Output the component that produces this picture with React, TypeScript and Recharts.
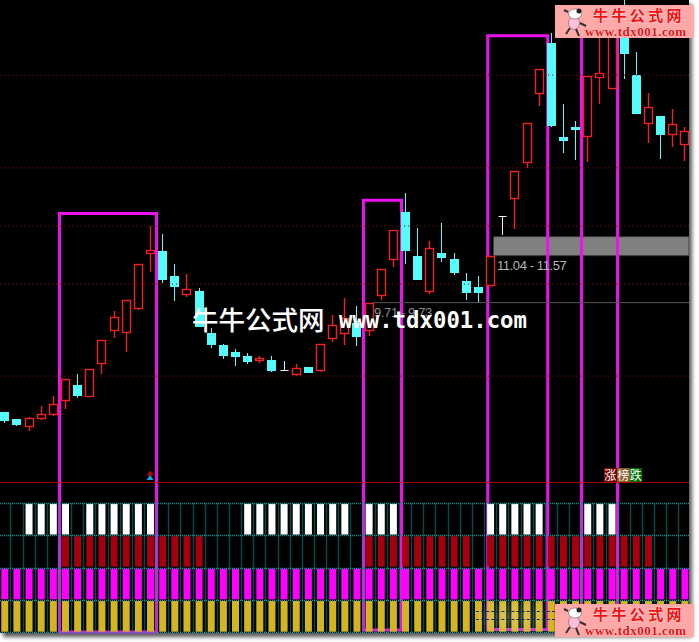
import { Bar, ComposedChart, ReferenceArea, ReferenceDot, ReferenceLine, XAxis, YAxis } from "recharts";

// candles, one entry per trading day
const opens = [6.68,6.48,6.28,6.51,6.61,7.01,7.42,7.12,8.04,8.96,8.90,9.57,11.10,11.17,10.47,9.95,10.05,8.87,8.54,8.35,8.24,8.13,8.12,7.86,7.76,7.93,7.84,8.77,8.88,9.16,8.95,9.95,10.94,12.27,11.04,10.07,11.11,10.96,10.34,10.18,10.22,12.16,12.64,13.65,15.57,16.97,14.36,14.64,14.37,16.01,15.71,17.76,16.08,14.73,14.95,14.43,14.15];
const highs = [6.68,6.48,6.54,6.85,7.13,7.59,7.74,7.87,8.68,9.49,9.80,10.80,11.87,11.65,10.82,10.52,10.14,9.02,8.57,8.44,8.33,8.24,8.23,8.09,8.02,7.93,8.57,9.39,9.85,9.63,9.71,10.68,11.76,12.80,11.80,11.44,11.94,11.12,10.55,10.47,11.04,12.16,13.40,14.73,16.24,17.25,15.27,14.80,16.05,17.20,17.62,18.17,16.72,15.58,14.95,15.13,14.63];
const lows = [6.38,6.28,6.14,6.45,6.56,6.75,7.06,7.12,7.73,8.74,8.36,9.53,10.59,10.29,9.78,9.90,9.06,8.47,8.17,7.95,8.03,8.05,7.80,7.81,7.68,7.76,7.79,8.64,8.54,8.53,8.81,9.80,10.73,10.82,10.41,9.96,10.87,10.51,9.80,9.73,10.22,11.61,11.79,13.48,15.22,14.62,13.91,13.72,13.66,15.28,15.71,15.98,15.03,14.19,13.75,14.08,13.69];
const closes = [6.46,6.34,6.50,6.61,6.89,7.59,7.14,7.87,8.68,9.32,9.80,10.80,11.19,10.40,10.20,10.10,9.06,8.56,8.25,8.25,8.11,8.19,7.84,7.86,7.92,7.79,8.57,9.12,9.30,8.81,9.71,10.68,11.76,11.22,10.41,11.26,11.01,10.59,10.02,10.04,11.04,12.16,13.40,14.73,16.24,14.69,14.28,14.58,16.05,16.13,17.62,16.70,15.03,15.18,14.44,14.71,14.51];

// signal rows under the candles: day numbers where the row is lit
const whiteDays = [2,3,4,5,7,8,9,10,11,12,20,21,22,23,24,25,26,27,28,30,31,32,40,41,42,43,44,48,49,50];
const redDays = [5,6,7,8,9,10,11,12,13,14,15,16,30,31,32,33,34,35,36,37,38,40,41,42,43,44,45,46,47,48,49,50,51,52,53];

const priceGrid = [16.08, 13.49, 11.87, 10.25, 7.68];
const priceLabels = [
  { text: "11.04 - 11.57", day: 40.56, price: 10.64, color: "#b4b4b4" },
  { text: "9.71 - 9.73", day: 30.44, price: 9.33, color: "#8c8c8c" },
];
const boxes = [
  { x1: 4.54, x2: 12.53, top: 12.22, bottom: 0.54 },
  { x1: 29.57, x2: 32.7, top: 12.59, bottom: 0.6 },
  { x1: 39.8, x2: 44.74, top: 17.18, bottom: 0.61 },
  { x1: 47.52, x2: 50.49, top: 17.9, bottom: 0.88 },
];
const tags = [
  { text: "涨", bg: "#7a0000", left: 604 },
  { text: "榜", bg: "#8a5a28", left: 617 },
  { text: "跌", bg: "#006e00", left: 629.5 },
];

const days = opens.map((_, i) => i);
const table = days.map((i) => ({
  i,
  open: opens[i],
  close: closes[i],
  range: [lows[i], highs[i]],
  yellow: [0.02, 0.97],
  magenta: [1.02, 1.97],
  red: redDays.includes(i) ? [2.03, 2.97] : [2, 2],
  white: whiteDays.includes(i) ? [3.02, 3.97] : [3, 3],
}));

const rows = [
  { key: "yellow", fill: "#d4b422" },
  { key: "magenta", fill: "#ff00ff" },
  { key: "red", fill: "#a6000f" },
  { key: "white", fill: "#ffffff" },
];
const xDomain = [-0.358, 56.374];

const crisp = (v: number) => Math.round(v) + 0.5;

function Candle(props: any) {
  const { x, y, width, height, payload } = props;
  const [low, high] = payload.range;
  const perUnit = height / (high - low);
  const cx = crisp(x + width / 2 - 0.5);
  const yOpen = y + (high - payload.open) * perUnit;
  const yClose = y + (high - payload.close) * perUnit;
  const top = crisp(Math.min(yOpen, yClose));
  const h = Math.max(1, Math.round(Math.abs(yOpen - yClose)));
  const wick = { x1: cx, x2: cx, y1: Math.round(y), y2: Math.round(y + height) };
  if (payload.open === payload.close) {
    return (
      <g stroke="#f0f0f0" strokeWidth={1}>
        <line {...wick} />
        <line x1={cx - 4} x2={cx + 4} y1={top} y2={top} />
      </g>
    );
  }
  if (payload.close > payload.open) {
    return (
      <g stroke="#f02020" strokeWidth={1.4}>
        <line {...wick} />
        <rect x={cx - 4} y={top} width={8} height={h} fill="#000" />
      </g>
    );
  }
  return (
    <g>
      <line {...wick} stroke="#54fcfc" strokeWidth={1} />
      <rect x={cx - 4.5} y={top - 0.5} width={9} height={h + 1} fill="#54fcfc" />
    </g>
  );
}

function DottedLine(props: any) {
  const { x1, x2, y1, y2 } = props;
  const vertical = x1 === x2;
  return (
    <line
      x1={vertical ? crisp(x1) : x1}
      x2={vertical ? crisp(x2) : x2}
      y1={vertical ? y1 : crisp(y1)}
      y2={vertical ? y2 : crisp(y2)}
      stroke="#009898"
      strokeWidth={1.4}
      strokeDasharray="1 1"
    />
  );
}

function Triangle(props: any) {
  const { cx, cy, fill } = props;
  return <path d={`M${cx - 3.5} ${cy + 2.5} L${cx} ${cy - 2.5} L${cx + 3.5} ${cy + 2.5} Z`} fill={fill} />;
}

function Logo({ left, top }: { left: number; top: number }) {
  return (
    <div style={{ position: "absolute", left, top, width: 139, height: 33, background: "#ffa8a8", overflow: "hidden" }}>
      <svg width={30} height={33} style={{ position: "absolute", left: 6, top: 0 }}>
        <ellipse cx={13} cy={18} rx={5.5} ry={6.5} fill="#ffc0dc" stroke="#555" strokeWidth={0.5} />
        <ellipse cx={14} cy={9} rx={6.5} ry={5} fill="#fff" stroke="#444" strokeWidth={0.5} />
        <circle cx={18} cy={6} r={2.5} fill="#222" />
        <path d="M7 7 L3 5 M19 18 L25 21 M9 23 L5 29 M15 24 L18 31" stroke="#333" strokeWidth={2} />
      </svg>
      <div
        style={{
          position: "absolute",
          left: 38,
          top: 2,
          color: "#f01010",
          fontFamily: "'Noto Sans CJK SC'",
          fontWeight: 700,
          fontSize: 15,
          lineHeight: "16px",
          letterSpacing: 3.4,
          whiteSpace: "nowrap",
          textShadow: "0 0 2px #fff",
        }}
      >
        牛牛公式网
      </div>
      <div
        style={{
          position: "absolute",
          left: 30,
          top: 20,
          color: "#e01010",
          fontFamily: "'Liberation Serif'",
          fontWeight: 700,
          fontSize: 13,
          lineHeight: "13px",
          letterSpacing: 0.5,
          whiteSpace: "nowrap",
          textShadow: "0 0 1px #fff",
        }}
      >
        www.tdx001.com
      </div>
    </div>
  );
}

export default function App() {
  return (
    <div style={{ position: "absolute", left: 0, top: 0, width: 699, height: 642, background: "#fff", overflow: "hidden" }}>
      <div style={{ position: "absolute", left: 0, top: 0, width: 689, height: 633, background: "#000", boxShadow: "3px 4px 4px rgba(0,0,0,0.65)" }} />
      <div style={{ position: "absolute", left: 0, top: 0 }}>
        <ComposedChart width={689} height={634} data={table} margin={{ top: 0, right: 0, bottom: 0, left: 0 }}>
          <XAxis dataKey="i" type="number" domain={xDomain} allowDataOverflow hide />
          {rows.map((r) => (
            <XAxis key={r.key} xAxisId={r.key} dataKey="i" type="number" domain={xDomain} allowDataOverflow hide />
          ))}
          <YAxis yAxisId="price" domain={[0.485, 18.174]} allowDataOverflow hide />
          <YAxis yAxisId="panel" domain={[-0.049, 19.52]} allowDataOverflow hide />

          {priceGrid.map((p) => (
            <ReferenceLine key={p} yAxisId="price" y={p} stroke="#8a0000" strokeDasharray="1 3" />
          ))}
          <ReferenceLine yAxisId="price" y={4.71} stroke="#a00000" />
          {[0, 1, 2, 3, 4].map((v) => (
            <ReferenceLine key={v} yAxisId="panel" y={v} shape={DottedLine} />
          ))}
          {days.map((i) => (
            <ReferenceLine
              key={i}
              yAxisId="panel"
              segment={[
                { x: i + 0.5, y: 0 },
                { x: i + 0.5, y: 4 },
              ]}
              shape={DottedLine}
            />
          ))}

          {rows.map((r) => (
            <Bar key={r.key} xAxisId={r.key} yAxisId="panel" dataKey={r.key} barSize={7} fill={r.fill} isAnimationActive={false} />
          ))}

          <ReferenceArea yAxisId="price" x1={40.28} x2={56.374} y1={11.04} y2={11.57} fill="#808080" fillOpacity={1} stroke="#3c3c3c" />
          <ReferenceLine
            yAxisId="price"
            stroke="#555"
            segment={[
              { x: 30.3, y: 9.73 },
              { x: 56.374, y: 9.73 },
            ]}
          />
          <Bar yAxisId="price" dataKey="range" barSize={9} shape={Candle} isAnimationActive={false} />

          <ReferenceDot yAxisId="price" x={12} y={4.98} r={4} shape={(p: any) => <Triangle {...p} fill="#c00000" />} />
          <ReferenceDot yAxisId="price" x={12} y={4.85} r={4} shape={(p: any) => <Triangle {...p} fill="#18a0f0" />} />

          {priceLabels.map((l) => (
            <ReferenceDot
              key={l.text}
              yAxisId="price"
              x={l.day}
              y={l.price}
              r={1}
              shape={(p: any) => (
                <text x={p.cx} y={p.cy} fill={l.color} fontFamily="'Liberation Sans'" fontSize={13} letterSpacing={-0.4}>
                  {l.text}
                </text>
              )}
            />
          ))}

          {boxes.map((b) => (
            <ReferenceArea
              key={b.x1}
              yAxisId="price"
              x1={b.x1}
              x2={b.x2}
              y1={b.bottom}
              y2={b.top}
              fill="none"
              stroke="#ee11ee"
              strokeWidth={3}
              ifOverflow="visible"
            />
          ))}
        </ComposedChart>
      </div>

      {/* faded watermark sitting on the yellow row */}
      <div style={{ position: "absolute", left: 478, top: 602, width: 66, height: 30, background: "radial-gradient(ellipse at center, rgba(255,255,255,0.22), rgba(255,255,255,0.08) 70%, rgba(255,255,255,0) 100%)" }} />
      <div style={{ position: "absolute", left: 476, top: 611, width: 79, borderTop: "1px dashed #103040" }} />
      <div style={{ position: "absolute", left: 476, top: 619, width: 79, borderTop: "1px dashed #103040" }} />

      {tags.map((t) => (
        <div
          key={t.text}
          style={{
            position: "absolute",
            left: t.left,
            top: 468,
            width: 12.5,
            height: 13.5,
            background: t.bg,
            color: "#fff",
            fontFamily: "'Noto Sans CJK SC'",
            fontSize: 12,
            lineHeight: "13px",
            textAlign: "center",
          }}
        >
          {t.text}
        </div>
      ))}

      <div
        style={{
          position: "absolute",
          left: 192,
          top: 300,
          color: "#fff",
          fontFamily: "'Noto Sans CJK SC'",
          fontWeight: 500,
          fontSize: 26.5,
          lineHeight: "38px",
          whiteSpace: "nowrap",
        }}
      >
        牛牛公式网
      </div>
      <div
        style={{
          position: "absolute",
          left: 339,
          top: 305,
          color: "#fff",
          fontFamily: "'DejaVu Sans Mono'",
          fontWeight: 700,
          fontSize: 22.3,
          lineHeight: "30px",
          whiteSpace: "nowrap",
        }}
      >
        www.tdx001.com
      </div>

      <Logo left={555} top={5} />
      <Logo left={555} top={604} />
    </div>
  );
}
